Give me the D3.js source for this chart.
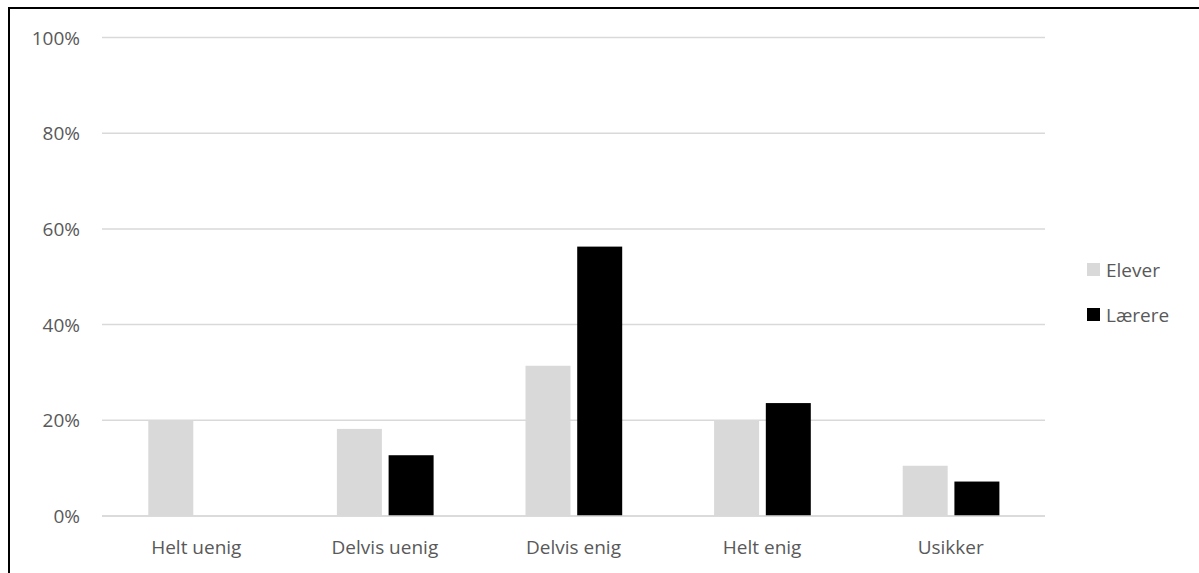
<!DOCTYPE html>
<html>
<head>
<meta charset="utf-8">
<script src="https://cdn.jsdelivr.net/npm/d3@7"></script>
<style>
  html, body { margin: 0; padding: 0; background: #fff; }
  svg { display: block; }
  text { font-family: "Open Sans", "Noto Sans", sans-serif; fill: #595959; }
</style>
</head>
<body>
<svg id="chart" width="1199" height="573"></svg>
<script>
const categories = ["Helt uenig", "Delvis uenig", "Delvis enig", "Helt enig", "Usikker"];
const seriesNames = ["Elever", "Lærere"];
const elever = [20.0, 18.2, 31.4, 20.0, 10.5];
const laerere = [0, 12.7, 56.3, 23.6, 7.2];
const yTicks = [0, 20, 40, 60, 80, 100];
const colors = ["#d9d9d9", "#000000"];

(function () {
const svg = d3.select("#chart");
const W = 1199, H = 573;
const FS = 19;

// frame
svg.append("line").attr("x1", 9).attr("x2", W).attr("y1", 8).attr("y2", 8)
  .attr("stroke", "#000").attr("stroke-width", 2);
svg.append("line").attr("x1", 9).attr("x2", 9).attr("y1", 7).attr("y2", H)
  .attr("stroke", "#000").attr("stroke-width", 2);

const pLeft = 102, pRight = 1045, pTop = 37.5, pBottom = 516;
const x = d3.scaleBand().domain(categories).range([pLeft, pRight]).paddingInner(0).paddingOuter(0);
const inner = d3.scaleBand().domain(seriesNames).range([46.3, 46.3 + 96.7]).paddingInner(0.13);
const y = d3.scaleLinear().domain([0, 100]).range([pBottom, pTop]);

// gridlines
svg.append("g").selectAll("line").data(yTicks).join("line")
  .attr("x1", pLeft).attr("x2", pRight)
  .attr("y1", d => y(d)).attr("y2", d => y(d))
  .attr("stroke", "#d9d9d9").attr("stroke-width", 1.5);

// y labels
const yAxis = d3.axisLeft(y).tickValues(yTicks).tickFormat(d => d + "%").tickSize(0).tickPadding(0);
const gy = svg.append("g").attr("transform", `translate(80,0)`).call(yAxis);
gy.select(".domain").remove();
gy.selectAll("text").attr("font-size", FS).attr("fill", "#595959")
  .style("font-family", '"Open Sans", sans-serif').attr("dy", "0.35em");

// bars
const data = categories.map((c, i) => ({ c, vals: [elever[i], laerere[i]] }));
const groups = svg.append("g").selectAll("g").data(data).join("g")
  .attr("transform", d => `translate(${x(d.c)},0)`);
groups.selectAll("rect").data(d => d.vals.map((v, j) => ({ v, s: seriesNames[j], j })))
  .join("rect")
  .attr("x", d => inner(d.s))
  .attr("width", inner.bandwidth())
  .attr("y", d => y(d.v))
  .attr("height", d => y(0) - y(d.v))
  .attr("fill", d => colors[d.j]);

// x axis line
svg.append("line").attr("x1", pLeft).attr("x2", pRight).attr("y1", y(0)).attr("y2", y(0))
  .attr("stroke", "#d9d9d9").attr("stroke-width", 1.5);

// x labels
const xAxis = d3.axisBottom(x).tickSize(0).tickPadding(0);
const gx = svg.append("g").attr("transform", `translate(0,${pBottom})`).call(xAxis);
gx.select(".domain").remove();
gx.selectAll("text").attr("font-size", FS).attr("fill", "#595959")
  .style("font-family", '"Open Sans", sans-serif').attr("y", 38).attr("dy", 0);

// legend
const lg = svg.append("g");
seriesNames.forEach((s, i) => {
  const yy = 263 + i * 45;
  lg.append("rect").attr("x", 1087).attr("y", yy).attr("width", 13).attr("height", 13).attr("fill", colors[i]);
  lg.append("text").attr("x", 1106).attr("y", yy + 13.5).attr("font-size", FS).text(s);
});
})();
</script>
</body>
</html>
